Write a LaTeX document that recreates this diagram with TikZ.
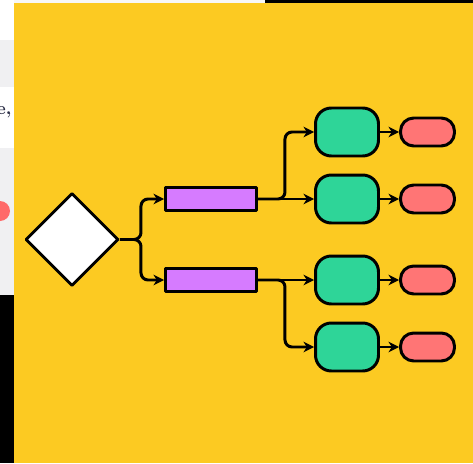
\documentclass[tikz,border=0pt]{standalone}
\usetikzlibrary{shapes.geometric,arrows.meta}
\definecolor{bgyellow}{HTML}{FCCA22}
\definecolor{taskpurple}{HTML}{D67BFF}
\definecolor{optgreen}{HTML}{2ED598}
\definecolor{resred}{HTML}{FF7575}
\definecolor{stripgray}{HTML}{F0F0F2}
\definecolor{textnavy}{HTML}{2A2D45}
\tikzset{
  conn/.style={-{Stealth[length=6pt,width=6pt]},rounded corners=4pt},
  decision/.style={diamond,draw,fill=white,aspect=1,inner sep=0pt,minimum width=1.86cm,minimum height=1.86cm},
  task/.style={rectangle,draw,fill=taskpurple,minimum width=1.82cm,minimum height=0.46cm},
  option/.style={rectangle,draw,fill=optgreen,rounded corners=9pt,minimum width=1.26cm,minimum height=0.96cm},
  result/.style={rectangle,draw,fill=resred,rounded corners=7.5pt,minimum width=1.08cm,minimum height=0.56cm}
}
\begin{document}
\begin{tikzpicture}[x=0.02cm,y=-0.02cm,line width=1.7pt,line join=round]

                    \useasboundingbox (0,0) rectangle (473,463);
                    % background
                    \fill[bgyellow] (14,3) rectangle (473,463);
                    \fill[black!3] (14,0) rectangle (265,3);
                    \fill[black] (265,0) rectangle (473,3);
                    % left strip
                    \fill[white] (0,0) rectangle (14,295);
                    \fill[stripgray] (0,40) rectangle (14,87);
                    \fill[stripgray] (0,148) rectangle (14,295);
                    \fill[black] (0,295) rectangle (14,463);
                    \fill[resred!90!red] (0,211) circle (10);
                    \node[anchor=east,inner sep=0pt,font=\fontsize{10}{11}\selectfont\bfseries,text=textnavy] (cut) at (13,112) {e,};

                    % decision
                    \node[decision] (dec) at (72,239.5) {};
                    % tasks
                    \node[task] (taskA) at (211,199) {};
                    \node[task] (taskB) at (211,280) {};
                    % options
                    \node[option] (optA) at (347,132) {};
                    \node[option] (optB) at (347,199) {};
                    \node[option] (optC) at (347,280) {};
                    \node[option] (optD) at (347,347) {};
                    % results
                    \node[result] (resA) at (427.5,132) {};
                    \node[result] (resB) at (427.5,199) {};
                    \node[result] (resC) at (427.5,280) {};
                    \node[result] (resD) at (427.5,347) {};

                    % connectors
                    \draw[conn] (dec.east) -- ++(21,0) |- (taskA.west);
                    \draw[conn] (dec.east) -- ++(21,0) |- (taskB.west);
                    \draw[conn] (taskA.east) -- ++(27,0) |- (optA.west);
                    \draw[conn] (taskA.east) -- (optB.west);
                    \draw[conn] (taskB.east) -- (optC.west);
                    \draw[conn] (taskB.east) -- ++(27,0) |- (optD.west);
                    \foreach \i in {A,B,C,D}
                        \draw[conn] (opt\i.east) -- (res\i.west);

                \end{tikzpicture}
\end{document}
